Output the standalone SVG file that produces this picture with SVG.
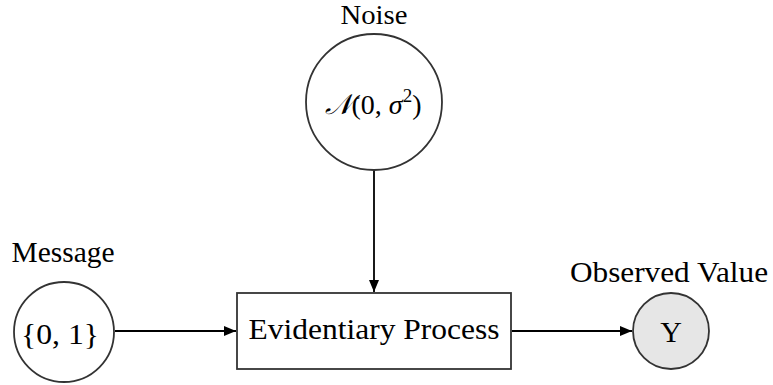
<svg xmlns="http://www.w3.org/2000/svg" width="773" height="385" viewBox="0 0 773 385">
<defs>
<marker id="arr" viewBox="0 0 12 10" refX="12" refY="5" markerWidth="12" markerHeight="10" markerUnits="userSpaceOnUse" orient="auto">
<path d="M0,0 L12,5 L0,10 z" fill="#000"/>
</marker>
</defs>
<style>
text{font-family:"Liberation Serif","DejaVu Serif",serif;fill:#000;}
.lbl{font-size:30px;text-anchor:middle;}
.node{fill:#fff;stroke:#333;stroke-width:1.8;}
.obs{fill:#e6e6e6;stroke:#333;stroke-width:1.8;}
.edge{stroke:#000;stroke-width:1.8;fill:none;marker-end:url(#arr);}
</style>
<rect width="773" height="385" fill="#fff"/>
<g id="connectors">
<line class="edge" x1="115" y1="331" x2="236" y2="331"/>
<line class="edge" x1="512" y1="331" x2="632" y2="331"/>
<line class="edge" x1="374" y1="170" x2="374" y2="292"/>
</g>
<g id="noise">
<circle class="node" cx="374" cy="102" r="68"/>
<text class="lbl" x="374" y="24" font-size="27" style="font-size:27px" textLength="67" lengthAdjust="spacingAndGlyphs">Noise</text>
<text class="lbl" x="373" y="114" style="font-size:28px"><tspan font-style="italic">𝒩</tspan>(0, <tspan font-style="italic">σ</tspan><tspan font-size="19" dy="-12">2</tspan><tspan dy="12">)</tspan></text>
</g>
<g id="message">
<circle class="node" cx="64" cy="332" r="50"/>
<text class="lbl" x="63" y="262" textLength="103" lengthAdjust="spacingAndGlyphs">Message</text>
<text class="lbl" x="60" y="344" textLength="78" lengthAdjust="spacingAndGlyphs">{0, 1}</text>
</g>
<g id="process">
<rect class="node" x="237" y="293" width="274" height="76"/>
<text class="lbl" x="374" y="339" textLength="251" lengthAdjust="spacingAndGlyphs">Evidentiary Process</text>
</g>
<g id="observed">
<circle class="obs" cx="671" cy="331" r="38"/>
<text class="lbl" x="669" y="282" textLength="198" lengthAdjust="spacingAndGlyphs">Observed Value</text>
<text class="lbl" x="671" y="342">Y</text>
</g>
</svg>
